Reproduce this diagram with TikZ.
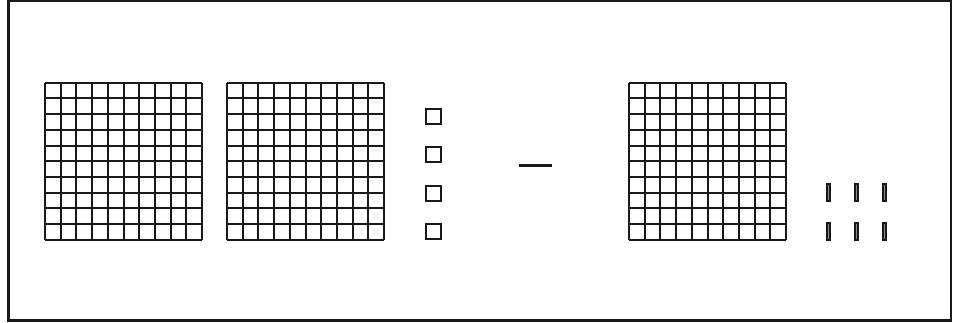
\documentclass[tikz,border=0pt]{standalone}
\usetikzlibrary{positioning}

\begin{document}
\begin{tikzpicture}[
  x=1pt, y=-1pt,
  frame/.style={line width=2.6pt, black!90},
  gridline/.style={line width=2pt, black!90},
  unitbox/.style={draw, line width=2pt, black!90, minimum size=15pt, inner sep=0pt},
  rodbox/.style={draw, line width=1.8pt, black!90, fill=black!45, minimum width=3.2pt, minimum height=17pt, inner sep=0pt},
  minus/.style={line width=3pt, black!90}
]
\useasboundingbox (0,0) rectangle (953,322);
\draw[frame] (8.2,1) rectangle (950.8,320.5);

% hundreds
\foreach \gx in {45,227,629} {
  \foreach \i in {0,...,10} {
    \draw[gridline] (\gx+\i*15.7,82.7) -- ++(0,157);
    \draw[gridline] (\gx,82.7+\i*15.7) -- ++(157,0);
  }
}

% ones
\foreach \uy [count=\n] in {116,154.5,193,231}
  \node[unitbox] (u\n) at (433,\uy) {};

% minus sign
\coordinate (mleft) at (519,165.5);
\coordinate (mright) at (552,165.5);
\draw[minus] (mleft) -- (mright);

% tens
\foreach \ry [count=\r] in {192.5,231.5}
  \foreach \rx [count=\c] in {828.5,856.5,884.5}
    \node[rodbox] (rod-\r-\c) at (\rx,\ry) {};
\end{tikzpicture}
\end{document}
